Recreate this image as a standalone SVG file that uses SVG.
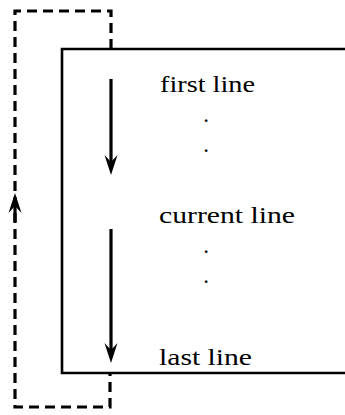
<svg xmlns="http://www.w3.org/2000/svg" width="345" height="415" viewBox="0 0 345 415">
  <style>
    .box { fill: none; stroke: #000; stroke-width: 2.6; }
    .lbl { font-family: "Liberation Serif", "Times New Roman", serif; font-size: 23px; fill: #000; }
    .dot { font-family: "Liberation Serif", "Times New Roman", serif; font-size: 23px; fill: #000; text-anchor: middle; }
    .arrow { fill: none; stroke: #000; stroke-width: 3.2; marker-end: url(#head); }
    .loop { fill: none; stroke: #000; stroke-width: 3.2; stroke-dasharray: 10 6; }
  </style>
  <defs>
    <marker id="head" viewBox="-12 -8 24 16" refX="0" refY="0" markerWidth="24" markerHeight="16" markerUnits="userSpaceOnUse" orient="auto">
      <path d="M10,0 L-10,-6.5 L-3,0 L-10,6.5 Z" fill="#000"/>
    </marker>
  </defs>
  <rect width="345" height="415" fill="#fff"/>
  <g id="buffer">
    <path class="box" d="M345,49 H62 V373 H345"/>
    <text class="lbl" x="160" y="92" textLength="95" lengthAdjust="spacingAndGlyphs">first line</text>
    <text class="dot" x="206" y="122">.</text>
    <text class="dot" x="206" y="152">.</text>
    <text class="lbl" x="159" y="223" textLength="136" lengthAdjust="spacingAndGlyphs">current line</text>
    <text class="dot" x="206" y="253">.</text>
    <text class="dot" x="206" y="283">.</text>
    <text class="lbl" x="159" y="365" textLength="93" lengthAdjust="spacingAndGlyphs">last line</text>
  </g>
  <g id="connectors">
    <path class="arrow" d="M111,79 V165"/>
    <path class="arrow" d="M111,229 V353"/>
    <path class="loop" d="M111,49 V11 H15 V407 H110 V373"/>
    <path class="arrow" d="M15,222 V203"/>
  </g>
</svg>
